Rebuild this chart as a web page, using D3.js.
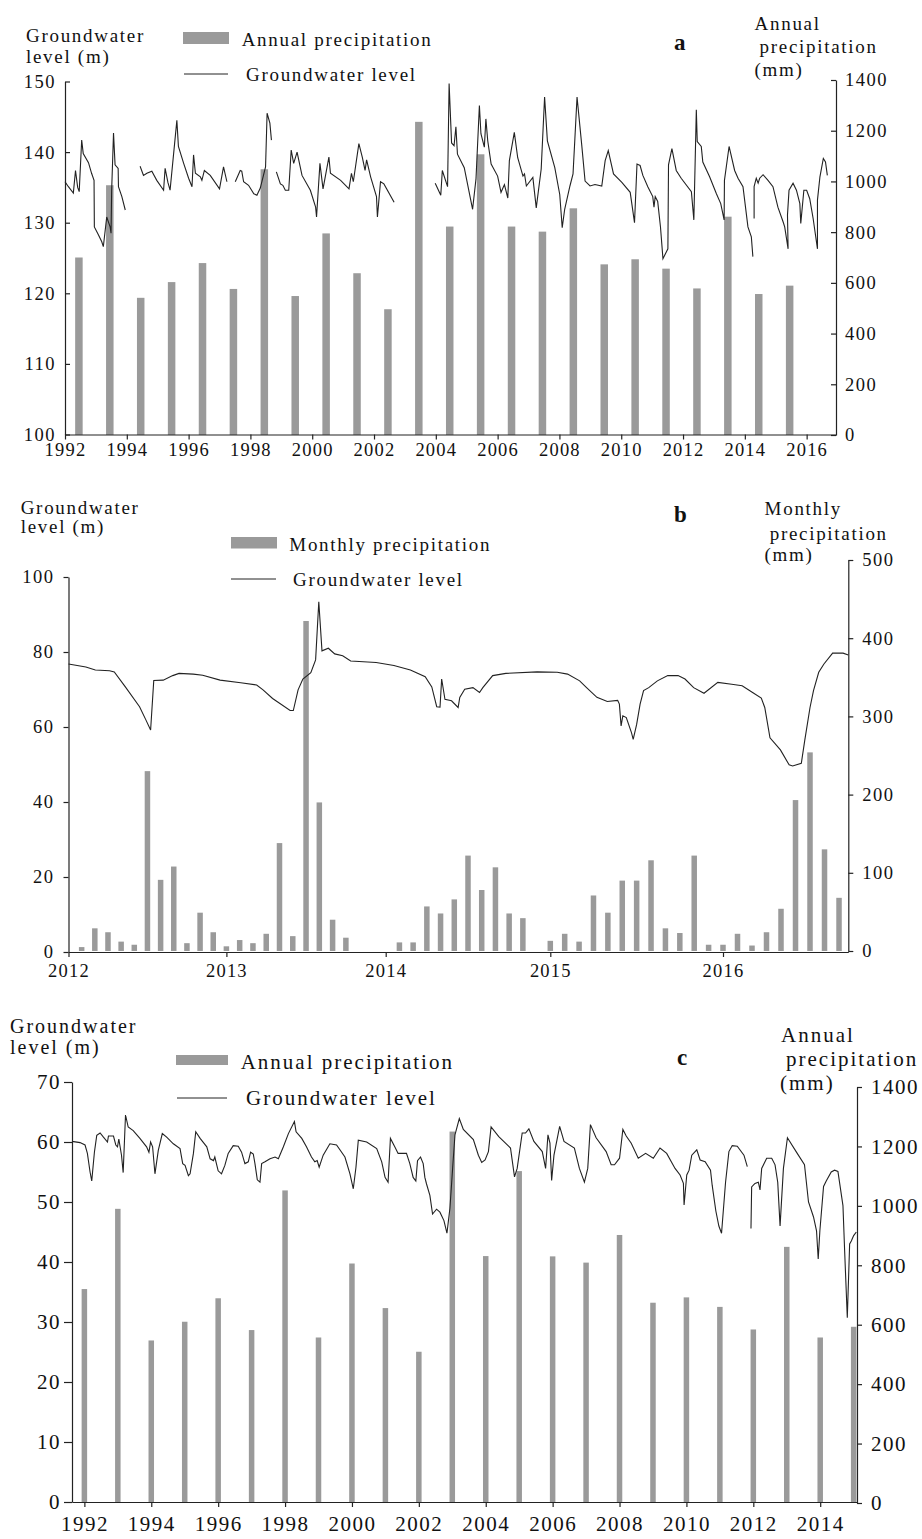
<!DOCTYPE html>
<html>
<head>
<meta charset="utf-8">
<script src="https://cdn.jsdelivr.net/npm/d3@7"></script>
<style>
  body { margin: 0; background: #fff; }
  svg text { font-family: "Liberation Serif", "Times New Roman", serif; fill: #111; }
</style>
</head>
<body>
<div class="canvas"></div>
<script>
// ---------------- data ----------------

// annual bars (panels a and c), one per year
const annualYears = d3.range(1992, 2016);
const annualPrecipA = [700, 985, 541, 603, 678, 576, 1048, 548, 795, 638, 496, 1235,
                       822, 1107, 822, 802, 894, 673, 693, 656, 578, 861, 556, 589];
const annualPrecipC = [720, 990, 547, 610, 689, 582, 1052, 557, 806, 656, 509, 1250,
                       831, 1117, 830, 809, 902, 674, 692, 660, 584, 862, 557, 593];

// monthly bars (panel b), Jan 2012 .. Aug 2016
const monthlyPrecip = [
  5, 29, 24, 12, 8, 230, 91, 108, 10, 49, 24, 6,       // 2012
  14, 10, 22, 138, 19, 422, 190, 40, 17, 0, 0, 0,      // 2013
  11, 11, 57, 48, 66, 122, 78, 107, 48, 42, 0, 13,     // 2014
  22, 12, 71, 49, 90, 90, 116, 29, 23, 122, 8, 8,      // 2015
  22, 7, 24, 54, 193, 254, 130, 68                      // 2016
];

// groundwater level [decimal year, m]; null = gap in the record
const gwLevelA = [
  [1992.00,135.8],[1992.11,135.1],[1992.27,134.2],[1992.34,137.4],[1992.41,135.0],[1992.46,134.4],
  [1992.54,141.7],[1992.59,139.8],[1992.76,138.5],[1992.86,137.0],[1992.94,136.0],[1992.95,129.4],
  [1993.08,128.3],[1993.19,127.3],[1993.24,126.6],[1993.35,130.8],[1993.46,129.4],[1993.49,128.5],
  [1993.51,134.6],[1993.57,142.7],[1993.62,138.2],[1993.72,137.7],[1993.73,135.1],[1993.84,133.7],
  [1993.95,131.8], null,
  [1994.43,138.0],[1994.54,136.7],[1994.65,137.0],[1994.81,137.3],[1994.97,136.0],[1995.19,134.6],
  [1995.24,137.7],[1995.33,135.7],[1995.40,134.6],[1995.62,144.5],[1995.67,140.8],[1995.84,138.4],
  [1996.00,136.3],[1996.11,135.1],[1996.16,139.6],[1996.22,137.0],[1996.38,136.5],[1996.43,136.0],
  [1996.51,137.4],[1996.70,136.7],[1997.00,134.8],[1997.13,137.9],[1997.24,135.8], null,
  [1997.51,135.8],[1997.67,137.4],[1997.72,137.3],[1997.78,135.8],[1997.94,135.3],[1998.11,134.1],
  [1998.21,133.9],[1998.32,134.9],[1998.49,137.9],[1998.54,145.5],[1998.63,144.1],[1998.68,141.7], null,
  [1998.84,137.2],[1998.97,135.5],[1999.05,135.3],[1999.13,134.6],[1999.24,134.6],[1999.32,140.3],
  [1999.40,138.4],[1999.51,140.0],[1999.67,136.7],[1999.94,134.6],[2000.11,132.2],[2000.14,130.8],
  [2000.25,138.4],[2000.35,134.8],[2000.54,139.3],[2000.59,137.0],[2000.92,136.0],[2001.19,134.8],
  [2001.27,137.0],[2001.33,135.8],[2001.51,141.2],[2001.62,139.3],[2001.71,137.4],[2001.76,138.9],
  [2001.89,136.5],[2002.08,133.7],[2002.11,130.8],[2002.21,135.8],[2002.32,135.5],[2002.65,132.9], null,
  [2003.98,135.6],[2004.16,133.9],[2004.21,137.4],[2004.38,135.1],[2004.43,149.7],[2004.51,141.3],
  [2004.59,140.9],[2004.65,143.6],[2004.70,139.7],[2004.92,137.8],[2005.19,131.9],[2005.30,136.2],
  [2005.41,146.6],[2005.46,142.6],[2005.57,140.7],[2005.62,144.7],[2005.68,141.6],[2005.79,138.3],
  [2006.00,136.6],[2006.11,134.3],[2006.22,135.4],[2006.33,133.5],[2006.38,138.8],[2006.54,142.8],
  [2006.65,139.2],[2006.82,136.6],[2006.87,136.9],[2006.93,135.2],[2007.14,136.4],[2007.25,132.1],
  [2007.41,137.6],[2007.52,147.8],[2007.61,141.6],[2007.85,137.8],[2008.01,134.0],[2008.09,129.3],
  [2008.17,131.9],[2008.34,135.2],[2008.44,136.9],[2008.50,141.9],[2008.57,147.8],[2008.72,141.1],
  [2008.83,135.9],[2008.99,135.2],[2009.15,135.4],[2009.37,135.2],[2009.48,138.8],[2009.58,140.2],
  [2009.75,136.9],[2010.02,135.7],[2010.29,134.3],[2010.43,130.0],[2010.51,138.3],[2010.61,138.1],
  [2010.70,136.7],[2010.86,135.1],[2011.02,133.7],[2011.06,132.2],[2011.10,133.7],[2011.18,133.0],
  [2011.27,129.4],[2011.35,124.9],[2011.51,126.3],[2011.53,138.2],[2011.64,140.5],[2011.78,137.4],
  [2011.94,136.3],[2012.27,134.4],[2012.35,130.4],[2012.43,146.0],[2012.46,141.5],[2012.59,140.8],
  [2012.64,138.6],[2012.86,136.5],[2013.08,134.1],[2013.22,132.7],[2013.33,130.4],[2013.34,136.0],
  [2013.49,140.8],[2013.67,137.4],[2013.78,136.3],[2013.94,135.1],[2014.10,129.4],[2014.21,128.0],
  [2014.26,125.2], null,
  [2014.30,130.6],[2014.30,135.1],[2014.37,136.3],[2014.43,135.6],[2014.48,136.3],[2014.59,136.8],
  [2014.75,136.0],[2014.91,135.1],[2015.07,132.2],[2015.24,130.1],[2015.29,129.4],[2015.40,126.3],
  [2015.38,131.1],[2015.43,134.6],[2015.56,135.6],[2015.67,134.6],[2015.78,132.7],[2015.81,129.9],
  [2015.91,134.6],[2016.00,134.6],[2016.10,133.4],[2016.21,130.6],[2016.35,126.3],[2016.35,133.2],
  [2016.43,136.5],[2016.54,139.1],[2016.61,138.6],[2016.67,136.7]
];

const gwLevelB = [
  [2012.00,76.8],[2012.11,76.0],[2012.17,75.2],[2012.26,75.0],[2012.29,74.7],[2012.36,70.7],
  [2012.45,65.4],[2012.49,61.9],[2012.52,59.2],[2012.54,72.4],[2012.60,72.5],[2012.66,73.7],
  [2012.70,74.3],[2012.79,74.1],[2012.85,73.8],[2012.96,72.5],[2013.09,71.8],[2013.19,71.2],
  [2013.23,69.9],[2013.29,67.6],[2013.40,64.4],[2013.42,64.4],[2013.45,69.9],[2013.48,72.8],
  [2013.53,74.5],[2013.56,77.9],[2013.58,93.4],[2013.60,80.3],[2013.64,81.0],[2013.68,79.5],
  [2013.73,79.0],[2013.78,77.6],[2013.94,77.2],[2014.05,76.4],[2014.15,75.2],[2014.24,73.4],
  [2014.28,70.7],[2014.31,65.4],[2014.33,65.3],[2014.34,72.8],[2014.36,67.4],[2014.40,67.0],
  [2014.44,65.2],[2014.45,67.9],[2014.48,70.1],[2014.53,70.5],[2014.57,69.2],[2014.59,70.5],
  [2014.65,73.7],[2014.73,74.3],[2014.92,74.7],[2015.04,74.6],[2015.10,74.1],[2015.17,72.3],
  [2015.21,70.5],[2015.27,67.9],[2015.33,66.8],[2015.39,67.1],[2015.40,66.1],[2015.41,60.3],
  [2015.42,63.0],[2015.44,62.5],[2015.47,58.5],[2015.48,56.7],[2015.50,60.7],[2015.52,66.1],
  [2015.54,69.7],[2015.57,70.5],[2015.62,72.3],[2015.68,73.7],[2015.74,73.7],[2015.78,72.8],
  [2015.83,70.5],[2015.89,69.0],[2015.97,71.9],[2016.05,71.4],[2016.11,71.0],[2016.17,69.2],
  [2016.22,67.7],[2016.24,65.2],[2016.27,57.1],[2016.33,53.9],[2016.38,49.9],[2016.40,49.6],
  [2016.45,50.3],[2016.47,56.5],[2016.50,65.2],[2016.52,69.7],[2016.55,74.6],[2016.58,76.8],
  [2016.63,79.7],[2016.69,79.7],[2016.72,79.2]
];

const gwLevelC = [
  [1991.63,60.1],[1991.87,59.9],[1992.02,59.5],[1992.09,58.1],[1992.17,55.0],[1992.22,53.5],
  [1992.30,58.3],[1992.37,61.1],[1992.47,61.5],[1992.57,60.8],[1992.69,60.0],[1992.72,61.0],
  [1992.87,61.0],[1992.94,59.5],[1992.99,59.2],[1993.03,60.5],[1993.11,57.8],[1993.16,54.9],
  [1993.23,64.5],[1993.31,62.5],[1993.46,61.9],[1993.66,60.6],[1993.86,59.2],[1993.93,58.3],
  [1993.98,60.0],[1994.04,59.2],[1994.11,54.7],[1994.21,58.6],[1994.33,61.4],[1994.46,60.8],
  [1994.66,59.7],[1994.86,58.9],[1994.94,56.4],[1995.01,56.1],[1995.11,54.4],[1995.16,54.7],
  [1995.26,58.1],[1995.33,61.7],[1995.46,60.6],[1995.66,59.2],[1995.76,57.2],[1995.86,56.9],
  [1995.90,57.5],[1996.00,55.2],[1996.10,54.7],[1996.20,56.1],[1996.30,58.1],[1996.45,59.4],
  [1996.60,59.3],[1996.70,58.3],[1996.80,56.4],[1996.90,56.7],[1996.97,58.3],[1997.05,58.0],
  [1997.10,56.4],[1997.17,53.7],[1997.25,53.3],[1997.30,56.4],[1997.40,56.7],[1997.55,57.2],
  [1997.70,57.5],[1997.80,57.2],[1997.95,59.2],[1998.10,61.4],[1998.28,63.4],[1998.33,61.7],
  [1998.50,60.6],[1998.64,59.2],[1998.79,57.5],[1998.89,56.7],[1998.96,56.9],[1999.02,55.8],
  [1999.14,57.8],[1999.34,59.7],[1999.54,59.5],[1999.79,57.5],[1999.94,54.7],[2000.04,52.2],
  [2000.12,55.8],[2000.19,60.3],[2000.44,60.0],[2000.74,58.9],[2000.89,56.7],[2000.99,54.1],
  [2001.08,53.3],[2001.15,60.6],[2001.28,59.2],[2001.38,58.1],[2001.63,58.1],[2001.73,56.4],
  [2001.83,54.1],[2001.91,53.5],[2001.96,56.9],[2002.05,57.5],[2002.13,56.4],[2002.18,54.1],
  [2002.23,53.0],[2002.33,51.1],[2002.41,48.0],[2002.53,48.8],[2002.63,48.3],[2002.75,46.9],
  [2002.84,44.8],[2002.93,49.0],[2003.01,55.6],[2003.08,61.2],[2003.21,63.9],[2003.33,62.1],
  [2003.63,60.4],[2003.78,57.8],[2003.88,56.6],[2003.98,57.0],[2004.08,58.4],[2004.16,62.5],
  [2004.39,60.9],[2004.74,59.0],[2004.86,54.2],[2004.94,55.6],[2005.09,61.5],[2005.19,61.5],
  [2005.29,62.2],[2005.44,60.1],[2005.69,58.4],[2005.79,55.6],[2005.86,61.2],[2005.92,59.8],
  [2005.97,53.6],[2006.04,57.8],[2006.21,62.6],[2006.34,60.1],[2006.65,59.0],[2006.80,55.6],
  [2006.95,53.3],[2007.05,55.6],[2007.13,62.9],[2007.30,60.7],[2007.60,58.4],[2007.75,56.2],
  [2007.85,56.2],[2008.00,57.3],[2008.10,62.1],[2008.20,61.0],[2008.35,59.8],[2008.56,57.3],
  [2008.78,58.1],[2009.01,57.3],[2009.21,59.0],[2009.41,58.1],[2009.66,55.6],[2009.81,54.5],
  [2009.91,53.1],[2009.93,49.5],[2010.01,54.5],[2010.08,55.3],[2010.16,57.8],[2010.31,58.7],
  [2010.41,57.0],[2010.56,56.7],[2010.72,55.3],[2010.77,52.8],[2010.88,48.5],[2010.97,46.0],
  [2011.05,44.8],[2011.17,53.3],[2011.27,58.4],[2011.37,59.4],[2011.52,59.3],[2011.72,57.8],
  [2011.82,55.9], null,
  [2011.93,45.6],[2011.95,52.5],[2012.05,53.1],[2012.15,53.3],[2012.20,52.0],[2012.25,55.6],
  [2012.40,57.3],[2012.55,57.3],[2012.65,56.2],[2012.73,53.3],[2012.80,46.0],[2012.90,55.6],
  [2013.02,60.7],[2013.28,58.4],[2013.53,56.2],[2013.65,50.0],[2013.80,47.5],[2013.89,45.2],
  [2013.94,40.5],[2013.99,45.2],[2014.10,52.6],[2014.18,53.5],[2014.33,55.0],[2014.43,55.3],
  [2014.53,55.1],[2014.68,49.4],[2014.73,41.9],[2014.81,30.7],[2014.88,43.0],[2014.93,43.5],
  [2015.00,44.4],[2015.08,45.0]
];

// tick values
const ticksA = { x: d3.range(1992, 2017, 2), left: d3.range(100, 151, 10), right: d3.range(0, 1401, 200) };
const ticksB = { x: [2012, 2013, 2014, 2015, 2016], left: d3.range(0, 101, 20), right: d3.range(0, 501, 100) };
const ticksC = { x: d3.range(1992, 2015, 2), left: d3.range(0, 71, 10), right: d3.range(0, 1401, 200) };

// ---------------- drawing ----------------
const svg = d3.select('.canvas')
    .append('svg')
    .attr('width', 922)
    .attr('height', 1539);

svg.append('rect').attr('width', 922).attr('height', 1539).attr('fill', '#fff');

const BAR = '#9a9a9a';
const INK = '#222';
const fmt = d3.format('d');

// shared styling for every axis
const styleAxis = (g, size, ls) => {
    g.attr('font-family', null).attr('font-size', null);
    g.select('.domain').attr('stroke', INK).attr('stroke-width', 1.2);
    g.selectAll('.tick line').attr('stroke', INK).attr('stroke-width', 1.2);
    g.selectAll('.tick text')
        .attr('font-size', size)
        .style('letter-spacing', ls + 'px');
};

// plain text helper
const label = (x, y, str, size, ls, bold) => svg.append('text')
    .attr('x', x).attr('y', y)
    .attr('font-size', size)
    .attr('font-weight', bold ? 'bold' : 'normal')
    .style('letter-spacing', (ls || 0) + 'px')
    .text(str);

const gwLine = (x, y) => d3.line()
    .defined(d => d !== null)
    .x(d => x(d[0]))
    .y(d => y(d[1]));

// ======== panel a ========
const xA = d3.scaleLinear().domain([1992, 2016.95]).range([65, 836]);
const yA = d3.scaleLinear().domain([100, 150]).range([434.5, 81.5]);
const yA2 = d3.scaleLinear().domain([0, 1400]).range([435, 80]);

svg.append('g').selectAll('rect')
    .data(annualYears)
    .enter().append('rect')
    .attr('fill', BAR)
    .attr('x', (d) => xA(d + 0.45) - 3.75)
    .attr('width', 7.5)
    .attr('y', (d, i) => yA2(annualPrecipA[i]))
    .attr('height', (d, i) => yA2(0) - yA2(annualPrecipA[i]));

svg.append('path')
    .attr('d', gwLine(xA, yA)(gwLevelA))
    .attr('fill', 'none').attr('stroke', INK).attr('stroke-width', 1.1);

svg.append('g').attr('transform', `translate(0, ${yA(100)})`)
    .call(d3.axisBottom(xA).tickValues(ticksA.x).tickFormat(fmt)
        .tickSize(5).tickSizeOuter(0).tickPadding(3))
    .call(g => styleAxis(g, 18.5, 1.2));
svg.append('g').attr('transform', `translate(${xA.range()[0]}, 0)`)
    .call(d3.axisLeft(yA).tickValues(ticksA.left).tickFormat(fmt).tickSize(-5).tickSizeOuter(0).tickPadding(9))
    .call(g => styleAxis(g, 18.5, 1.5));
svg.append('g').attr('transform', `translate(${xA.range()[1]}, 0)`)
    .call(d3.axisRight(yA2).tickValues(ticksA.right).tickFormat(fmt).tickSize(-5).tickSizeOuter(0).tickPadding(9))
    .call(g => styleAxis(g, 18.5, 1.5));

label(26, 41.5, 'Groundwater', 19, 1.7);
label(26, 63, 'level (m)', 19, 1.7);
svg.append('rect').attr('x', 183).attr('y', 32).attr('width', 46).attr('height', 12).attr('fill', BAR);
label(241.7, 45.5, 'Annual precipitation', 19, 1.7);
svg.append('line').attr('x1', 184).attr('x2', 228).attr('y1', 74).attr('y2', 74).attr('stroke', INK);
label(246, 80.5, 'Groundwater level', 19, 1.7);
label(674, 50, 'a', 23, 0, true);
label(754.6, 29.5, 'Annual', 19, 1.7);
label(759.6, 53, 'precipitation', 19, 1.7);
label(754.6, 76, '(mm)', 19, 1.7);

// ======== panel b ========
// the printed time axis is slightly uneven, so the scale follows the year ticks
const xB = d3.scaleLinear()
    .domain([2012, 2013, 2014, 2015, 2016, 2016.72])
    .range([68.5, 226.4, 385.7, 550.3, 723, 848.3]);
const yB = d3.scaleLinear().domain([0, 100]).range([952, 577]);
const yB2 = d3.scaleLinear().domain([0, 500]).range([951, 560]);

svg.append('g').selectAll('rect')
    .data(monthlyPrecip)
    .enter().append('rect')
    .attr('fill', BAR)
    .attr('x', (d, i) => xB(2012 + (i + 1) / 12) - 2.75)
    .attr('width', 5.5)
    .attr('y', d => yB2(d))
    .attr('height', d => yB2(0) - yB2(d));

svg.append('path')
    .attr('d', gwLine(xB, yB)(gwLevelB))
    .attr('fill', 'none').attr('stroke', INK).attr('stroke-width', 1.1);

svg.append('g').attr('transform', `translate(0, ${yB(0)})`)
    .call(d3.axisBottom(xB).tickValues(ticksB.x).tickFormat(fmt)
        .tickSize(5).tickSizeOuter(0).tickPadding(7))
    .call(g => styleAxis(g, 18.5, 1.2));
svg.append('g').attr('transform', `translate(${xB.range()[0]}, 0)`)
    .call(d3.axisLeft(yB).tickValues(ticksB.left).tickFormat(fmt).tickSize(5).tickSizeOuter(0).tickPadding(9))
    .call(g => styleAxis(g, 18.5, 1.5));
svg.append('g').attr('transform', `translate(${xB.range()[5]}, 0)`)
    .call(d3.axisRight(yB2).tickValues(ticksB.right).tickFormat(fmt).tickSize(5).tickSizeOuter(0).tickPadding(9))
    .call(g => styleAxis(g, 18.5, 1.5));

label(20.7, 513.5, 'Groundwater', 19, 1.7);
label(20.7, 533, 'level (m)', 19, 1.7);
svg.append('rect').attr('x', 231).attr('y', 537).attr('width', 46).attr('height', 11.5).attr('fill', BAR);
label(289.3, 551, 'Monthly precipitation', 19, 1.7);
svg.append('line').attr('x1', 231).attr('x2', 276).attr('y1', 579).attr('y2', 579).attr('stroke', INK);
label(293, 586, 'Groundwater level', 19, 1.7);
label(674, 521.5, 'b', 23, 0, true);
label(764.6, 515, 'Monthly', 19, 1.7);
label(769.7, 540, 'precipitation', 19, 1.7);
label(764.6, 561, '(mm)', 19, 1.7);

// ======== panel c ========
const xC = d3.scaleLinear().domain([1991.63, 2015.1]).range([72, 857]);
const yC = d3.scaleLinear().domain([0, 70]).range([1502, 1082]);
const yC2 = d3.scaleLinear().domain([0, 1400]).range([1503, 1087]);

svg.append('g').selectAll('rect')
    .data(annualYears)
    .enter().append('rect')
    .attr('fill', BAR)
    .attr('x', d => xC(d) - 2.75)
    .attr('width', 5.5)
    .attr('y', (d, i) => yC2(annualPrecipC[i]))
    .attr('height', (d, i) => yC2(0) - yC2(annualPrecipC[i]));

svg.append('path')
    .attr('d', gwLine(xC, yC)(gwLevelC))
    .attr('fill', 'none').attr('stroke', INK).attr('stroke-width', 1.1);

svg.append('g').attr('transform', `translate(0, ${yC(0)})`)
    .call(d3.axisBottom(xC).tickValues(ticksC.x).tickFormat(fmt)
        .tickSize(5).tickSizeOuter(0).tickPadding(9))
    .call(g => styleAxis(g, 21, 1.5));
svg.append('g').attr('transform', `translate(${xC.range()[0]}, 0)`)
    .call(d3.axisLeft(yC).tickValues(ticksC.left).tickFormat(fmt).tickSize(8).tickSizeOuter(0).tickPadding(3))
    .call(g => styleAxis(g, 21, 1.5));
svg.append('g').attr('transform', `translate(${xC.range()[1]}, 0)`)
    .call(d3.axisRight(yC2).tickValues(ticksC.right).tickFormat(fmt).tickSize(5).tickSizeOuter(0).tickPadding(9))
    .call(g => styleAxis(g, 21, 1.5));

label(10, 1033, 'Groundwater', 20, 2);
label(10, 1054, 'level (m)', 20, 2);
svg.append('rect').attr('x', 176).attr('y', 1055).attr('width', 52).attr('height', 10).attr('fill', BAR);
label(240.7, 1068.5, 'Annual precipitation', 21, 2);
svg.append('line').attr('x1', 177).attr('x2', 227).attr('y1', 1098).attr('y2', 1098).attr('stroke', INK);
label(246, 1105, 'Groundwater level', 21, 2);
label(677, 1065, 'c', 23, 0, true);
label(781, 1042, 'Annual', 21, 2);
label(786, 1065.5, 'precipitation', 21, 2);
label(780, 1090, '(mm)', 21, 2);
</script>
</body>
</html>
